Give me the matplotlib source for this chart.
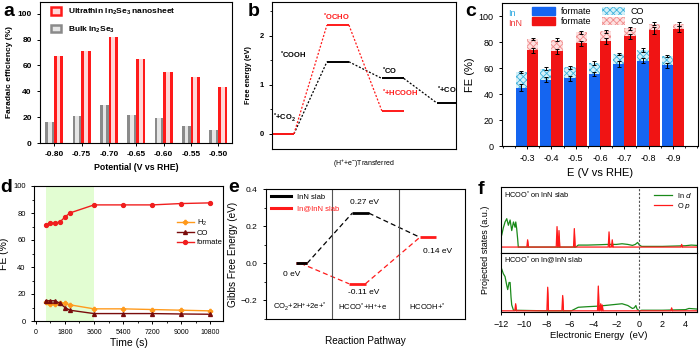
import numpy as np
import matplotlib
matplotlib.use("Agg")
from matplotlib import pyplot as plt
from matplotlib.patches import Patch
from matplotlib.lines import Line2D
from matplotlib.ticker import MultipleLocator

plt.rcParams['font.family'] = ['Liberation Sans', 'DejaVu Sans']
plt.rcParams['mathtext.default'] = 'regular'
plt.rcParams['axes.linewidth'] = 0.8
plt.rcParams['hatch.linewidth'] = 0.6

# ---- a: FE of In2Se3
pot_a = ['-0.80', '-0.75', '-0.70', '-0.65', '-0.60', '-0.55', '-0.50']
fe_ultrathin = [67, 71, 82, 65, 55, 51, 43]
fe_bulk = [16, 21, 29, 22, 19, 13, 10]

# ---- b: free energy diagram
g_cooh = [0, 1.47, 1.13, 0.63]
g_ocho = [0, 2.22, 0.47]
lab_cooh = ['$^{*}$+CO$_2$', '$^{*}$COOH', '$^{*}$CO', '$^{*}$+CO']
lab_ocho = ['', '$^{*}$OCHO', '$^{*}$+HCOOH']

# ---- c: In vs InN
pot_c = ['-0.3', '-0.4', '-0.5', '-0.6', '-0.7', '-0.8', '-0.9']
in_formate = [45, 51, 52, 55.5, 63, 65.5, 62]
in_co = [11.8, 8.6, 8.7, 8.3, 7.7, 8.4, 7.2]
inn_formate = [73.5, 73, 79, 80.5, 84.5, 89, 90]
inn_co = [8.8, 8.7, 8.5, 7.7, 5.9, 5.0, 3.8]
in_formate_err = [2.5, 2, 2, 1.8, 2.2, 2, 2]
in_tot_err = [1, 1.5, 1.2, 1.5, 1, 1.5, 1]
inn_formate_err = [2, 2, 2, 2.2, 2, 2.5, 2.5]
inn_tot_err = [1, 1, 1, 1.2, 1.2, 1.2, 1.5]

# ---- d: stability
t_d = [600, 900, 1200, 1500, 1800, 2100, 3600, 5400, 7200, 9000, 10800]
fe_h2 = [14, 12.5, 12.5, 13.5, 13, 12, 9, 9, 8.5, 8, 7.5]
fe_co = [15, 15, 15, 13, 10, 8, 5.5, 5.5, 5.5, 5.2, 5]
fe_formate = [71, 72.5, 72.5, 73.5, 77, 80, 86, 86, 86, 87, 87.5]

# ---- e: Gibbs free energy
g_inn = [0, 0.27, 0.14]
g_in_inn = [0, -0.11, 0.14]
e_steps = ['CO$_2$+2H$^{+}$+2e+$^{*}$', 'HCOO$^{*}$+H$^{+}$+e', 'HCOOH+$^{*}$']
e_vals_txt = ['0 eV', '0.27 eV', '-0.11 eV', '0.14 eV']

# ---- f: PDOS
f1_ind_x = [-12, -11.94, -11.8, -11.65, -11.5, -11.36, -11.21, -11.07, -10.92, -10.78, -10.72, -10.64,
            -10.55, -10.5, -8, -5.5, -5.3, -4.5, -3.5, -2.8, -2.0, -1.5, -1.0, -0.6, -0.35, -0.15, 0.0,
            0.2, 1, 2, 3, 4, 4.5, 5]
f1_ind_y = [0.25, 0.27, 0.38, 0.47, 0.52, 0.42, 0.50, 0.34, 0.47, 0.39, 0.47, 0.37,
            0.2, 0.09, 0.09, 0.09, 0.12, 0.12, 0.125, 0.13, 0.13, 0.14, 0.13, 0.115, 0.13, 0.16, 0.12,
            0.10, 0.10, 0.10, 0.105, 0.11, 0.12, 0.115]
f1_op_pk = [-9.69, -7.14, -6.97, -5.64, -2.63, -2.35, 3.67]
f1_op_h = [0.20, 0.40, 0.34, 0.37, 0.32, 0.20, 0.13]
f1_base = 0.09

f2_ind_x = [-12, -11.94, -11.8, -11.65, -11.5, -11.42, -11.3, -11.21, -11.13, -11.07, -10.92, -8, -5.9,
            -5.3, -4.5, -3.5, -2.5, -1.5, -1.0, -0.6, -0.45, -0.3, -0.2, 0.0, 0.2, 2, 3, 4, 4.3, 5]
f2_ind_y = [0.75, 0.73, 0.65, 0.6, 0.45, 0.38, 0.5, 0.5, 0.25, 0.12, 0.03, 0.02, 0.02,
            0.08, 0.09, 0.10, 0.12, 0.14, 0.11, 0.06, 0.07, 0.11, 0.05, 0.02, 0.03, 0.03, 0.035, 0.04, 0.06, 0.05]
f2_op_pk = [-10.73, -7.95, -6.65, -3.56, -3.35, -3.22, 2.8]
f2_op_h = [0.14, 0.42, 0.28, 0.44, 0.14, 0.12, 0.07]
f2_base = 0.02

fig = plt.figure(figsize=(7, 3.5), dpi=100)


def px_axes(x0, y0, x1, y1):
    return fig.add_axes([x0 / 700, 1 - y1 / 350, (x1 - x0) / 700, (y1 - y0) / 350])


# ================= a
ax = px_axes(40, 2, 232, 143)
xa = np.arange(len(pot_a))
w = 0.34
ax.bar(xa - 0.16, fe_bulk, w, color='#8a8a8a')
ax.bar(xa - 0.16, fe_bulk, w * 0.4, color='#e6e6e6')
ax.bar(xa + 0.16, fe_ultrathin, w, color='#ff1a1a')
ax.bar(xa + 0.16, fe_ultrathin, w * 0.4, color='#ffd8d8')
ax.set_xlim(-0.52, 6.5)
ax.set_ylim(0, 109)
ax.set_xticks(xa)
ax.set_xticklabels(pot_a)
ax.set_yticks(range(0, 101, 20))
ax.tick_params(labelsize=6, length=2.5, width=0.7)
for t in ax.get_xticklabels() + ax.get_yticklabels():
    t.set_fontweight('bold')
ax.set_xlabel('Potential (V vs RHE)', fontsize=6.3, fontweight='bold', labelpad=3)
ax.set_ylabel('Faradaic efficiency (%)', fontsize=6, fontweight='bold', labelpad=3)
hd = [Patch(facecolor='#ffd8d8', edgecolor='#ff1a1a', lw=1.8),
      Patch(facecolor='#e6e6e6', edgecolor='#8a8a8a', lw=1.8)]
ax.legend(hd, ['Ultrathin In$_2$Se$_3$ nanosheet', 'Bulk In$_2$Se$_3$'], loc='upper left',
          bbox_to_anchor=(0.02, 1.02), frameon=False, prop={'size': 6, 'weight': 'bold'},
          handlelength=1.2, handleheight=1.0, labelspacing=0.9)

# ================= b
ax = px_axes(272, 2, 456, 149)
hw = 0.2
dash = (0, (1.6, 1.4))
for i, g in enumerate(g_cooh):
    ax.hlines(g, i - hw, i + hw, color='black', lw=1.4)
    if i < len(g_cooh) - 1:
        ax.plot([i + hw, i + 1 - hw], [g, g_cooh[i + 1]], ls=dash, color='black', lw=0.9)
for i, g in enumerate(g_ocho):
    ax.hlines(g, i - hw, i + hw, color='#ff1a1a', lw=1.4)
    if i < len(g_ocho) - 1:
        ax.plot([i + hw, i + 1 - hw], [g, g_ocho[i + 1]], ls=dash, color='#ff1a1a', lw=0.9)
bkw = dict(fontsize=5.5, fontweight='bold')
ax.text(-0.18, 0.33, lab_cooh[0], ha='left', va='center', **bkw)
ax.text(-0.05, 1.61, lab_cooh[1], ha='left', va='center', **bkw)
ax.text(1.8, 1.27, lab_cooh[2], ha='left', va='center', **bkw)
ax.text(2.8, 0.88, lab_cooh[3], ha='left', va='center', clip_on=True, **bkw)
ax.text(0.97, 2.37, lab_ocho[1], ha='center', va='center', color='#ff1a1a', **bkw)
ax.text(1.8, 0.82, lab_ocho[2], ha='left', va='center', color='#ff1a1a', **bkw)
ax.set_xlim(-0.2, 3.15)
ax.set_ylim(-0.31, 2.69)
ax.set_xticks([])
ax.set_yticks([0, 1, 2])
ax.yaxis.set_minor_locator(MultipleLocator(0.5))
ax.tick_params(labelsize=5.5, length=2.5, width=0.7)
ax.tick_params(which='minor', length=1.5, width=0.6)
for t in ax.get_yticklabels():
    t.set_fontweight('bold')
ax.set_ylabel('Free energy (eV)', fontsize=5.3, fontweight='bold', labelpad=5)
ax.set_xlabel('(H$^{+}$+e$^{-}$)Transferred', fontsize=5, labelpad=6)

# ================= c
ax = px_axes(502, 3, 698, 146)
xc = np.arange(len(pot_c))
wc = 0.47
blue, red = '#1565f0', '#f01414'
ax.bar(xc - wc / 2, in_formate, wc, color=blue)
ax.bar(xc - wc / 2, in_co, wc, bottom=in_formate, facecolor='#d4f0f8', edgecolor='#3fb2dc',
       hatch='xxxxx', lw=0)
ax.bar(xc + wc / 2, inn_formate, wc, color=red)
ax.bar(xc + wc / 2, inn_co, wc, bottom=inn_formate, facecolor='#fde0e0', edgecolor='#f08a8a',
       hatch='xxxxx', lw=0)
in_tot = np.array(in_formate) + np.array(in_co)
inn_tot = np.array(inn_formate) + np.array(inn_co)
ekw = dict(fmt='none', ecolor='black', elinewidth=0.7, capsize=1.5, capthick=0.7)
ax.errorbar(xc - wc / 2, in_formate, yerr=in_formate_err, **ekw)
ax.errorbar(xc - wc / 2, in_tot, yerr=in_tot_err, **ekw)
ax.errorbar(xc + wc / 2, inn_formate, yerr=inn_formate_err, **ekw)
ax.errorbar(xc + wc / 2, inn_tot, yerr=inn_tot_err, **ekw)
ax.set_xlim(-1.03, 7.03)
ax.set_ylim(0, 110)
ax.set_xticks(xc)
ax.set_xticklabels(pot_c)
ax.xaxis.set_minor_locator(MultipleLocator(0.5))
ax.set_yticks(range(0, 101, 20))
ax.tick_params(labelsize=6.5, length=2.5, width=0.7)
ax.tick_params(which='minor', length=1.5, width=0.6)
ax.set_ylabel('FE (%)', fontsize=8, labelpad=3)
ax.set_xlabel('E (V vs RHE)', fontsize=8, labelpad=3)
hc = [Patch(color=blue), Patch(color=red),
      Patch(facecolor='#d4f0f8', edgecolor='#3fb2dc', hatch='xxxxx', lw=0),
      Patch(facecolor='#fde0e0', edgecolor='#f08a8a', hatch='xxxxx', lw=0)]
ax.legend(hc, ['formate', 'formate', 'CO', 'CO'], ncol=2, loc='upper left',
          bbox_to_anchor=(0.11, 1.03), frameon=False, fontsize=6.5, handlelength=2.6,
          handleheight=1.0, columnspacing=1.2, labelspacing=0.1, handletextpad=0.6)
ax.text(0.03, 0.925, 'In', transform=ax.transAxes, color='#2aa8e0', fontsize=6.5, va='center')
ax.text(0.03, 0.855, 'InN', transform=ax.transAxes, color='#f03a3a', fontsize=6.5, va='center')

# ================= d
ax = px_axes(34, 186, 223, 321)
ax.axvspan(600, 3600, color='#e2fdd2', lw=0)
ax.plot(t_d, fe_h2, color='#ff9a1c', marker='P', ms=3, lw=1, label='H$_2$')
ax.plot(t_d, fe_co, color='#7a0c0c', marker='^', ms=2.8, lw=1, label='CO')
ax.plot(t_d, fe_formate, color='#f01e1e', marker='o', ms=2.8, lw=1, label='formate')
ax.set_xlim(-120, 11600)
ax.set_ylim(0, 100)
ax.set_xticks(range(0, 10801, 1800))
ax.set_yticks(range(0, 101, 20))
ax.yaxis.set_minor_locator(MultipleLocator(10))
ax.xaxis.set_minor_locator(MultipleLocator(900))
ax.tick_params(axis='x', labelsize=5, length=2.5, width=0.7)
ax.tick_params(axis='y', labelsize=5.5, length=2.5, width=0.7)
ax.tick_params(which='minor', length=1.5, width=0.6)
ax.set_xlabel('Time (s)', fontsize=7.5, labelpad=1)
ax.set_ylabel('FE (%)', fontsize=7.5, labelpad=3)
ax.legend(loc='center left', bbox_to_anchor=(0.72, 0.66), frameon=False, fontsize=5.5,
          handlelength=2.2, labelspacing=0.25, handletextpad=0.4)

# ================= e
ax = px_axes(266, 189, 465, 319)
lev = [(0.45, 0.62), (1.3, 1.55), (2.32, 2.56)]
lev_r = [(0.45, 0.62), (1.25, 1.5), (2.32, 2.56)]
edash = (0, (4, 2.5))
for i in range(2):
    ax.plot([lev_r[i][1] - 0.1 if i == 0 else lev_r[i][1], lev_r[i + 1][0]],
            [g_in_inn[i], g_in_inn[i + 1]], color='#ff1a1a', ls=edash, lw=0.9)
    ax.plot([lev[i][1], lev[i + 1][0]], [g_inn[i], g_inn[i + 1]], color='black', ls=edash, lw=0.9)
for i in range(3):
    ax.hlines(g_in_inn[i], *lev_r[i], color='#ff1a1a', lw=2)
for i in range(2):
    ax.hlines(g_inn[i], *lev[i], color='black', lw=2)
ax.axvline(1, color='#555555', lw=0.8)
ax.axvline(2, color='#555555', lw=0.8)
tkw = dict(fontsize=6, ha='center', va='center')
ax.text(0.39, -0.06, e_vals_txt[0], **tkw)
ax.text(1.49, 0.325, e_vals_txt[1], **tkw)
ax.text(1.47, -0.16, e_vals_txt[2], **tkw)
ax.text(2.58, 0.063, e_vals_txt[3], **tkw)
for i, s in enumerate(e_steps):
    ax.text([0.51, 1.46, 2.44][i], -0.236, s, fontsize=5.5, ha='center', va='center')
ax.set_xlim(0, 3)
ax.set_ylim(-0.3, 0.4)
ax.set_xticks([])
ax.set_yticks([-0.2, 0.0, 0.2, 0.4])
ax.yaxis.set_minor_locator(MultipleLocator(0.1))
ax.tick_params(labelsize=6, length=2.5, width=0.7)
ax.tick_params(which='minor', length=1.5, width=0.6)
ax.set_ylabel('Gibbs Free Energy (eV)', fontsize=7.2, labelpad=2)
ax.set_xlabel('Reaction Pathway', fontsize=7.2, labelpad=12)
he = [Line2D([], [], color='black', lw=2.2), Line2D([], [], color='#ff1a1a', lw=2.2)]
leg = ax.legend(he, ['InN slab', 'In@InN slab'], loc='upper left', bbox_to_anchor=(-0.01, 1.02),
                frameon=False, fontsize=5.5, handlelength=2.6, labelspacing=0.6)
leg.get_texts()[1].set_color('#ff1a1a')

# ================= f
ax1 = px_axes(501, 187, 697, 253)
ax2 = px_axes(501, 253, 697, 312)


def op_curve(pk, h, base):
    xs, ys = [-12], [base]
    for p, v in sorted(zip(pk, h)):
        xs += [p - 0.07, p, p + 0.07]
        ys += [base, v, base]
    xs.append(5)
    ys.append(base)
    return np.array(xs), np.array(ys)


for a_, gx, gy, pk, hh, base, title in [
        (ax1, f1_ind_x, f1_ind_y, f1_op_pk, f1_op_h, f1_base, 'HCOO$^{*}$ on InN slab'),
        (ax2, f2_ind_x, f2_ind_y, f2_op_pk, f2_op_h, f2_base, 'HCOO$^{*}$ on In@InN slab')]:
    ox, oy = op_curve(pk, hh, base)
    a_.fill_between(ox, base, oy, color='#ff1a1a', lw=0)
    a_.plot(gx, gy, color='#1a8a1a', lw=0.9, label='In $\\it{d}$')
    a_.plot(ox, oy, color='#ff1a1a', lw=0.9, label='O $\\it{p}$')
    a_.axvline(0, color='#555555', ls=(0, (2, 1.5)), lw=0.8)
    a_.set_xlim(-12, 5)
    a_.set_ylim(0, 1)
    a_.set_yticks([])
    a_.text(0.015, 0.88, title, transform=a_.transAxes, fontsize=5.3, va='center')
ax1.set_xticks([])
ax1.legend(loc='upper right', frameon=False, fontsize=5.3, handlelength=2.4,
           labelspacing=0.1, bbox_to_anchor=(1.01, 1.04))
ax2.set_xticks(range(-12, 5, 2))
ax2.tick_params(labelsize=6.5, length=2.5, width=0.7)
ax2.set_xlabel('Electronic Energy  (eV)', fontsize=6.8, labelpad=1)
fig.text(485 / 700, 1 - 249.5 / 350, 'Projected states (a.u.)', rotation=90, fontsize=6.5,
         ha='center', va='center')

# panel letters
for s, x, y in [('a', 9, 11), ('b', 254, 11), ('c', 471, 12), ('d', 6, 188), ('e', 234, 188),
                ('f', 481, 189)]:
    fig.text(x / 700, 1 - y / 350, s, fontsize=14, fontweight='bold', ha='center', va='center')

fig.savefig('out.png', dpi=100)
